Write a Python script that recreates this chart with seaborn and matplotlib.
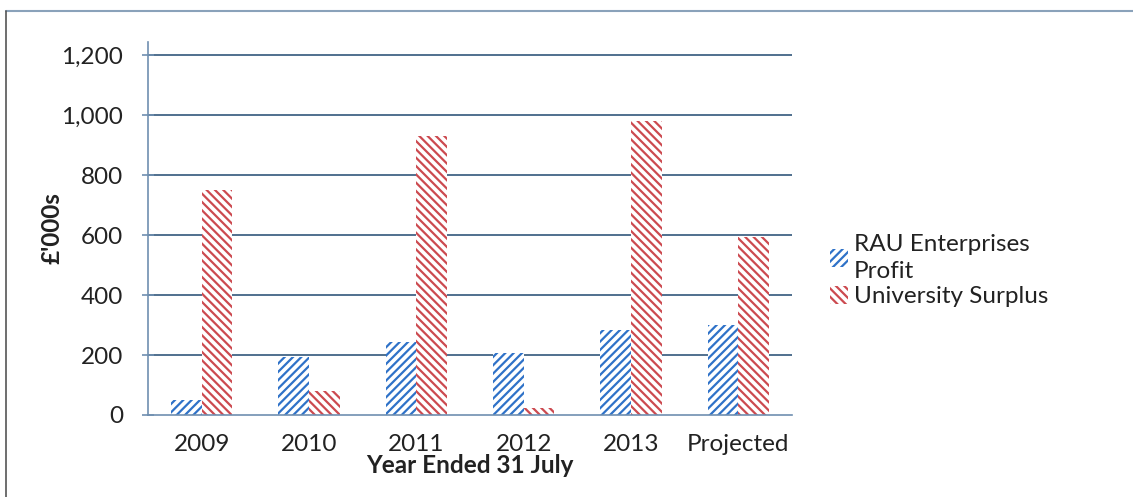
import matplotlib
matplotlib.use("Agg")
import matplotlib.pyplot as plt
from matplotlib.lines import Line2D
from matplotlib.ticker import FuncFormatter, FixedLocator
import seaborn as sns
import pandas as pd

# Figures in £'000s, year ended 31 July
years = ["2009", "2010", "2011", "2012", "2013", "Projected"]
rau_profit = [50, 195, 245, 208, 285, 300]
university_surplus = [752, 80, 932, 25, 980, 595]
series_names = ["RAU Enterprises\nProfit", "University Surplus"]

df = pd.DataFrame({
    "Year": years * 2,
    "Value": rau_profit + university_surplus,
    "Series": [series_names[0]] * len(years) + [series_names[1]] * len(years),
})

sns.set_theme(style="white")
plt.rcParams["font.family"] = ["Lato", "DejaVu Sans"]
plt.rcParams["hatch.linewidth"] = 1.6

blue = "#2f72c8"
red = "#cc4a50"
hatches = ["////", "\\\\\\\\"]
fs = 17.5

fig = plt.figure(figsize=(11.33, 4.97), dpi=100)
ax = fig.add_axes([0.1306, 0.165, 0.5684, 0.7505])

sns.barplot(data=df, x="Year", y="Value", hue="Series", order=years,
            hue_order=series_names, palette=[blue, red], width=0.57,
            ax=ax, legend=True)

for cont, col, hatch in zip(ax.containers, [blue, red], hatches):
    for bar in cont:
        bar.set_facecolor("white")
        bar.set_edgecolor(col)
        bar.set_hatch(hatch)
        bar.set_linewidth(0)

ax.set_ylim(0, 1245)
ax.set_xlim(-0.5, len(years) - 0.5)
ax.yaxis.set_major_locator(FixedLocator([0, 200, 400, 600, 800, 1000, 1200]))
ax.yaxis.set_major_formatter(FuncFormatter(lambda v, p: f"{int(v):,}"))

grid_col = "#50708e"
for v in [200, 400, 600, 800, 1000, 1200]:
    ax.axhline(v, color=grid_col, lw=1.4, zorder=0)

for s in ["top", "right"]:
    ax.spines[s].set_visible(False)
for s in ["left", "bottom"]:
    ax.spines[s].set_color("#6f8fb0")
    ax.spines[s].set_linewidth(1.2)

# Category-boundary ticks on x, crossing ticks on y
ax.set_xticks(range(len(years)))
ax.set_xticklabels(years)
ax.tick_params(axis="x", which="major", length=0, pad=14, labelsize=fs, colors="#222222")
ax.set_xticks([i - 0.5 for i in range(len(years) + 1)], minor=True)
ax.tick_params(axis="x", which="minor", length=8, width=1.2, color="#6f8fb0", direction="out")
ax.tick_params(axis="y", length=8, width=1.2, color="#6f8fb0", direction="inout",
               labelsize=fs, labelcolor="#222222", pad=14, left=True)

ax.set_xlabel("Year Ended 31 July", fontsize=fs, fontweight="bold", color="#222222", labelpad=-1)
ax.set_ylabel("£'000s", fontsize=fs, fontweight="bold", color="#222222", labelpad=-2)

handles, labels = ax.get_legend_handles_labels()
for h, col, hatch in zip(handles, [blue, red], hatches):
    h.set_facecolor("white")
    h.set_edgecolor(col)
    h.set_hatch(hatch)
    h.set_linewidth(0)
ax.legend(handles, labels, loc="center left", bbox_to_anchor=(0.713, 0.455),
          bbox_transform=fig.transFigure, frameon=False, fontsize=fs,
          handlelength=0.75, handleheight=0.75, handletextpad=0.25, labelspacing=0.15)
for t in ax.get_legend().get_texts():
    t.set_linespacing(1.35)
    t.set_color("#222222")

# Outer chart frame
frame_col = "#8aa2ba"
fig.add_artist(Line2D([0.005, 1.0], [0.978, 0.978], transform=fig.transFigure,
                      color=frame_col, lw=1.5))
fig.add_artist(Line2D([0.005, 0.005], [0.0, 0.978], transform=fig.transFigure,
                      color="#555555", lw=1.2))

fig.savefig("out.png", dpi=100)
